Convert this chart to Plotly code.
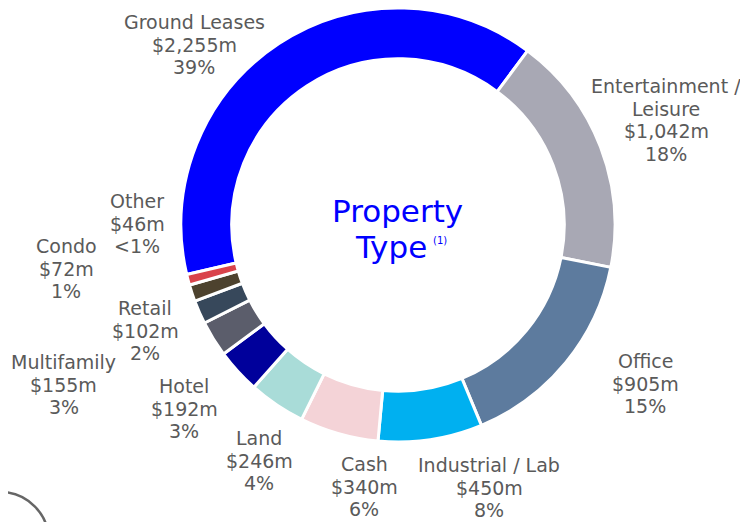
import plotly.graph_objects as go

categories = ["Ground Leases", "Entertainment / Leisure", "Office", "Industrial / Lab",
              "Cash", "Land", "Hotel", "Multifamily", "Retail", "Condo", "Other"]
values = [2255, 1042, 905, 450, 340, 246, 192, 155, 102, 72, 46]
value_labels = ["$2,255m", "$1,042m", "$905m", "$450m", "$340m", "$246m",
                "$192m", "$155m", "$102m", "$72m", "$46m"]
pct_labels = ["39%", "18%", "15%", "8%", "6%", "4%", "3%", "3%", "2%", "1%", "<1%"]
name_lines = [["Ground Leases"], ["Entertainment /", "Leisure"], ["Office"], ["Industrial / Lab"],
              ["Cash"], ["Land"], ["Hotel"], ["Multifamily"], ["Retail"], ["Condo"], ["Other"]]
colors = ["#0000FF", "#A8A8B4", "#5D7B9E", "#00B0F0", "#F4D3D7", "#A9DCD8",
          "#00009B", "#5B5D6B", "#37485B", "#4D422E", "#D9434B"]

# label layout in window pixels: (centre x, y of first line), line step
label_pos = [(194, 22), (666, 86), (645, 361), (489, 465), (364, 464), (259, 438),
             (184, 386), (64, 362), (145, 308), (66, 246), (137, 201)]
LINE_STEP = 22.6

W, H = 748, 522
OFF = 8  # page body margin


def px(x):
    return (x - OFF) / W


def py(y):
    return min(1.0, 1 - (y - OFF) / H)


fig = go.Figure(go.Pie(
    labels=categories,
    values=values,
    sort=False,
    direction="clockwise",
    rotation=256.8,
    hole=0.766,
    marker=dict(colors=colors, line=dict(color="white", width=3)),
    textinfo="none",
    hoverinfo="label+value+percent",
    showlegend=False,
    domain=dict(x=[px(181), px(615)], y=[py(442), py(8)]),
))

label_font = dict(family="DejaVu Sans", size=19, color="#5A5A5A")
for names, val, pct, (lx, ly) in zip(name_lines, value_labels, pct_labels, label_pos):
    for i, line in enumerate(names + [val, pct]):
        fig.add_annotation(
            x=px(lx), y=py(ly + i * LINE_STEP), xref="paper", yref="paper",
            text=line, showarrow=False, xanchor="center", yanchor="middle",
            borderpad=0, font=label_font,
        )

centre_font = dict(family="DejaVu Sans", size=31, color="#0000FF")
fig.add_annotation(x=px(397), y=py(211), xref="paper", yref="paper", text="Property",
                   showarrow=False, xanchor="center", yanchor="middle", borderpad=0,
                   font=centre_font)
fig.add_annotation(x=px(391), y=py(247), xref="paper", yref="paper", text="Type",
                   showarrow=False, xanchor="center", yanchor="middle", borderpad=0,
                   font=centre_font)
fig.add_annotation(x=px(440), y=py(240), xref="paper", yref="paper", text="(1)",
                   showarrow=False, xanchor="center", yanchor="middle", borderpad=0,
                   font=dict(family="DejaVu Sans", size=10, color="#0000FF"))

# decorative circle at bottom-left
cx, cy, r = 0, 541, 49
fig.add_shape(type="circle", xref="paper", yref="paper",
              x0=px(cx - r), x1=px(cx + r), y0=py(cy + r), y1=1 - (cy - r - OFF) / H,
              line=dict(color="#666666", width=2.5))

fig.update_layout(
    width=W, height=H,
    margin=dict(l=0, r=0, t=0, b=0),
    paper_bgcolor="white", plot_bgcolor="white",
)

fig.write_html("out.html")
